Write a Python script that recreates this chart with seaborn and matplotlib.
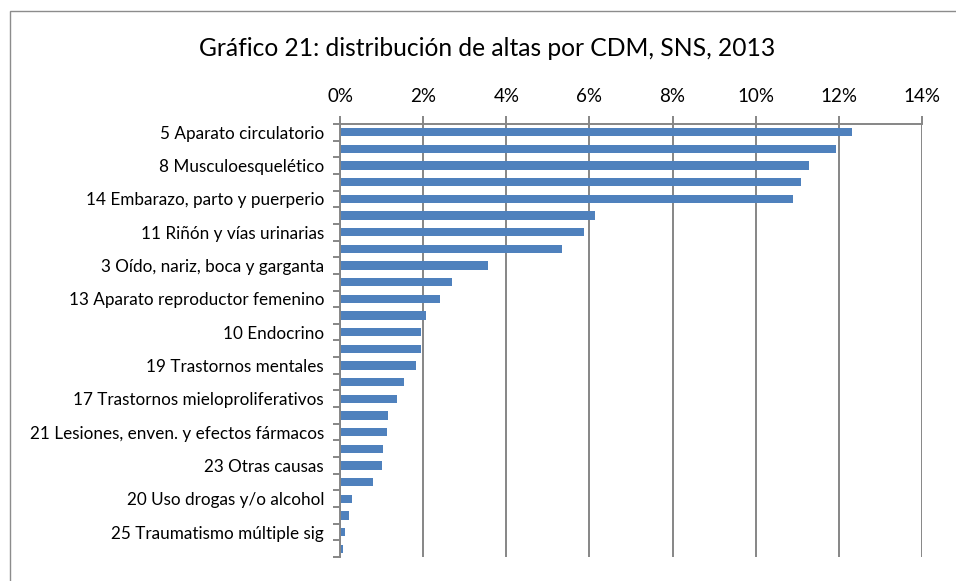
import matplotlib
matplotlib.use("Agg")
import matplotlib.pyplot as plt
from matplotlib.patches import Rectangle
from matplotlib.ticker import FixedLocator, FuncFormatter
import seaborn as sns
import pandas as pd

# ---- data ----
categories = [
    "5 Aparato circulatorio", "4 Aparato respiratorio", "8 Musculoesquelético",
    "6 Aparato digestivo", "14 Embarazo, parto y puerperio", "1 Sistema nervioso",
    "11 Riñón y vías urinarias", "7 Hepatobiliar y páncreas",
    "3 Oído, nariz, boca y garganta", "9 Piel y mama",
    "13 Aparato reproductor femenino", "12 Aparato reproductor masculino",
    "10 Endocrino", "15 Recién nacidos", "19 Trastornos mentales",
    "18 Enfermedades infecciosas", "17 Trastornos mieloproliferativos",
    "16 Sangre e inmunología", "21 Lesiones, enven. y efectos fármacos",
    "2 Ojo", "23 Otras causas", "0 Precategoría", "20 Uso drogas y/o alcohol",
    "24 Infecciones VIH", "25 Traumatismo múltiple sig", "22 Quemaduras",
]
values = [
    12.32, 11.92, 11.27, 11.09, 10.90, 6.14, 5.86, 5.34, 3.55, 2.70,
    2.41, 2.08, 1.96, 1.96, 1.83, 1.53, 1.36, 1.15, 1.14, 1.03,
    1.00, 0.79, 0.29, 0.22, 0.11, 0.07,
]
# only every other category label is displayed in the original chart
shown_labels = [c if i % 2 == 0 else "" for i, c in enumerate(categories)]
x_ticks = [0, 2, 4, 6, 8, 10, 12, 14]
title = "Gráfico 21: distribución de altas por CDM, SNS, 2013"

df = pd.DataFrame({"cdm": categories, "pct": values})

sns.set_theme(style="white")
plt.rcParams["font.family"] = ["Lato", "DejaVu Sans"]

W, H = 956, 581
fig = plt.figure(figsize=(W / 100, H / 100), dpi=100)
fig.patch.set_facecolor("white")

ax = fig.add_axes([340 / W, 1 - 557 / H, (922 - 340) / W, (557 - 124) / H])
sns.barplot(data=df, x="pct", y="cdm", order=categories, orient="h",
            color="#4F81BD", saturation=1, width=0.5, linewidth=0, ax=ax)

grid_c = "#868686"
ax.set_xlim(0, 14)
ax.set_ylim(len(categories) - 0.5, -0.5)
ax.set_xlabel("")
ax.set_ylabel("")

# x axis on top
ax.xaxis.tick_top()
ax.xaxis.set_major_locator(FixedLocator(x_ticks))
ax.xaxis.set_major_formatter(FuncFormatter(lambda v, p: f"{v:.0f}%"))
ax.tick_params(axis="x", which="major", direction="out", length=6, width=1.4,
               color=grid_c, pad=8, labelsize=13.5, labelcolor="black",
               top=True, bottom=False)
ax.grid(axis="x", color=grid_c, linewidth=1.4, linestyle="-")
ax.grid(axis="y", visible=False)
ax.set_axisbelow(True)

# y axis: labels at centres, tick marks at category boundaries
ax.set_yticks(range(len(categories)))
ax.set_yticklabels(shown_labels)
ax.set_yticks([i - 0.5 for i in range(len(categories) + 1)], minor=True)
ax.tick_params(axis="y", which="major", length=0, pad=11.5, labelsize=12.3,
               labelcolor="black")
ax.tick_params(axis="y", which="minor", left=True, direction="out", length=5,
               width=1.4, color=grid_c)

for s in ["right", "bottom"]:
    ax.spines[s].set_visible(False)
for s in ["left", "top"]:
    ax.spines[s].set_color(grid_c)
    ax.spines[s].set_linewidth(1.4)

fig.text(487 / W, 1 - 49 / H, title, ha="center", va="center", fontsize=17.7,
         color="black")

# outer chart frame (extends beyond right and bottom edges)
fig.patches.append(Rectangle((10 / W, -0.05), 1.2, 1.05 - 11 / H,
                             transform=fig.transFigure, fill=False,
                             edgecolor="#8c8c8c", linewidth=1.0))

fig.savefig("out.png", dpi=100, facecolor="white")
